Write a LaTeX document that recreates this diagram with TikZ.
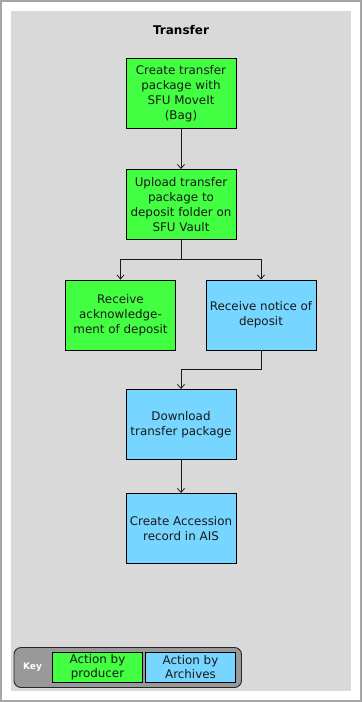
\documentclass[tikz,border=0pt]{standalone}
\usepackage{fontspec}
\setmainfont{DejaVu Sans}
\usetikzlibrary{arrows.meta}
\definecolor{prodgreen}{HTML}{42FF42}
\definecolor{archblue}{HTML}{76D6FF}
\definecolor{panelgray}{HTML}{D9D9D9}
\definecolor{framegray}{HTML}{A6A6A6}
\definecolor{keygray}{HTML}{999999}
\tikzset{
  stepbox/.style={draw=black, line width=0.9pt, minimum width=110pt, minimum height=70pt,
    inner sep=2pt, align=center, font=\fontsize{11.9}{15}\selectfont, text=black!90},
  producer/.style={stepbox, fill=prodgreen},
  archives/.style={stepbox, fill=archblue},
  keybox/.style={draw=black, line width=0.9pt, minimum width=90pt, minimum height=30pt,
    inner sep=1pt, align=center, font=\fontsize{11.9}{14}\selectfont, text=black!90},
  flow/.style={draw=black!90, line width=0.8pt, -{Straight Barb[length=4pt,width=7pt]}},
  link/.style={draw=black!90, line width=0.8pt}
}
\begin{document}
\begin{tikzpicture}[x=1pt,y=-1pt]
  \useasboundingbox (0,0) rectangle (362,702);
  % frame and panel
  \draw[framegray, line width=1.2pt] (1,1) rectangle (361,701);
  \fill[panelgray] (11,11) rectangle (351,691);
  \node[font=\fontsize{12}{14}\selectfont\bfseries] (title) at (181,30) {Transfer};

  % steps
  \node[producer] (bag) at (181,93.5) {Create transfer\\package with\\SFU MoveIt\\(Bag)};
  \node[producer] (upload) at (181,204.5) {Upload transfer\\package to\\deposit folder on\\SFU Vault};
  \node[producer] (ack) at (120.5,315) {Receive\\acknowledge-\\ment of deposit};
  \node[archives] (notice) at (261,315) {Receive notice of\\deposit};
  \node[archives] (download) at (181,424.5) {Download\\transfer package};
  \node[archives] (record) at (181,528.5) {Create Accession\\record in AIS};

  % connectors
  \coordinate (split) at (181,259.5);
  \coordinate (merge) at (261,369);
  \draw[link] (upload.south) -- (split);
  \draw[flow] (split) -| (ack.north);
  \draw[flow] (split) -| (notice.north);
  \draw[flow] (bag) -- (upload);
  \draw[flow] (notice.south) |- (merge -| download.north) -- (download.north);
  \draw[flow] (download) -- (record);

  % key
  \draw[black!85, fill=keygray, line width=0.9pt, rounded corners=7pt] (14,647.5) rectangle (241.5,687.5);
  \node[text=white, font=\fontsize{9}{11}\selectfont\bfseries] (keylabel) at (32.5,667.5) {Key};
  \node[keybox, fill=prodgreen] (keyprod) at (97.5,667.5) {Action by\\producer};
  \node[keybox, fill=archblue] (keyarch) at (190.5,667.5) {Action by\\Archives};
\end{tikzpicture}
\end{document}
